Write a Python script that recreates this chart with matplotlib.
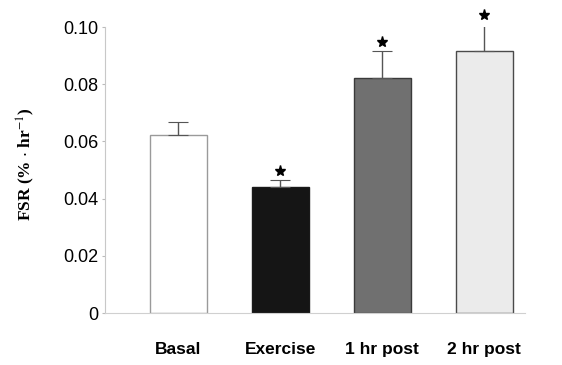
import matplotlib
matplotlib.use("Agg")
import matplotlib.pyplot as plt

categories = ["Basal", "Exercise", "1 hr post", "2 hr post"]
values = [0.0622, 0.0441, 0.0822, 0.0916]
errors = [0.0046, 0.0024, 0.0094, 0.0094]
significant = [False, True, True, True]
colors = ["#ffffff", "#151515", "#707070", "#ebebeb"]
edges = ["#9a9a9a", "#1a1a1a", "#3a3a3a", "#4a4a4a"]
yticks = [0, 0.02, 0.04, 0.06, 0.08, 0.10]
yticklabels = ["0", "0.02", "0.04", "0.06", "0.08", "0.10"]

plt.rcParams['mathtext.fontset'] = 'stix'
fig = plt.figure(figsize=(5.62, 3.65), dpi=100)
ax = fig.add_axes([0.187, 0.142, 0.747, 0.784])

x = list(range(len(categories)))
ax.bar(x, values, width=0.56, color=colors, edgecolor=edges, linewidth=1.0, zorder=2)
ax.errorbar(x, values, yerr=[[0]*4, errors], fmt='none', ecolor='#555555',
            elinewidth=1.0, capsize=7, capthick=0.8, zorder=3)
for xi, v, e, s in zip(x, values, errors, significant):
    if s:
        ax.plot(xi, v + e + 0.0033, marker='*', color='black', markersize=8,
                clip_on=False, zorder=4)

ax.set_xlim(-0.72, 3.4)
ax.set_ylim(0, 0.10)
ax.set_yticks(yticks)
ax.set_yticklabels(yticklabels, fontfamily='Liberation Sans', fontsize=13)
ax.set_xticks(x)
ax.set_xticklabels(categories, fontfamily='Liberation Sans', fontweight='bold', fontsize=12.5)
ax.tick_params(axis='x', length=0, pad=21)
ax.tick_params(axis='y', length=2, color='#bbbbbb', pad=3)
for sp in ['top', 'right']:
    ax.spines[sp].set_visible(False)
ax.spines['left'].set_color('#c8c8c8')
ax.spines['left'].set_linewidth(0.8)
ax.spines['bottom'].set_color('#d0d0d0')
ax.spines['bottom'].set_linewidth(0.8)

ax.set_ylabel(r'FSR (% $\cdot$ hr$^{-1}$)', fontfamily='Liberation Serif',
              fontweight='bold', fontsize=12.5)
ax.yaxis.set_label_coords(-0.162, 0.52)

fig.savefig("out.png", dpi=100)
